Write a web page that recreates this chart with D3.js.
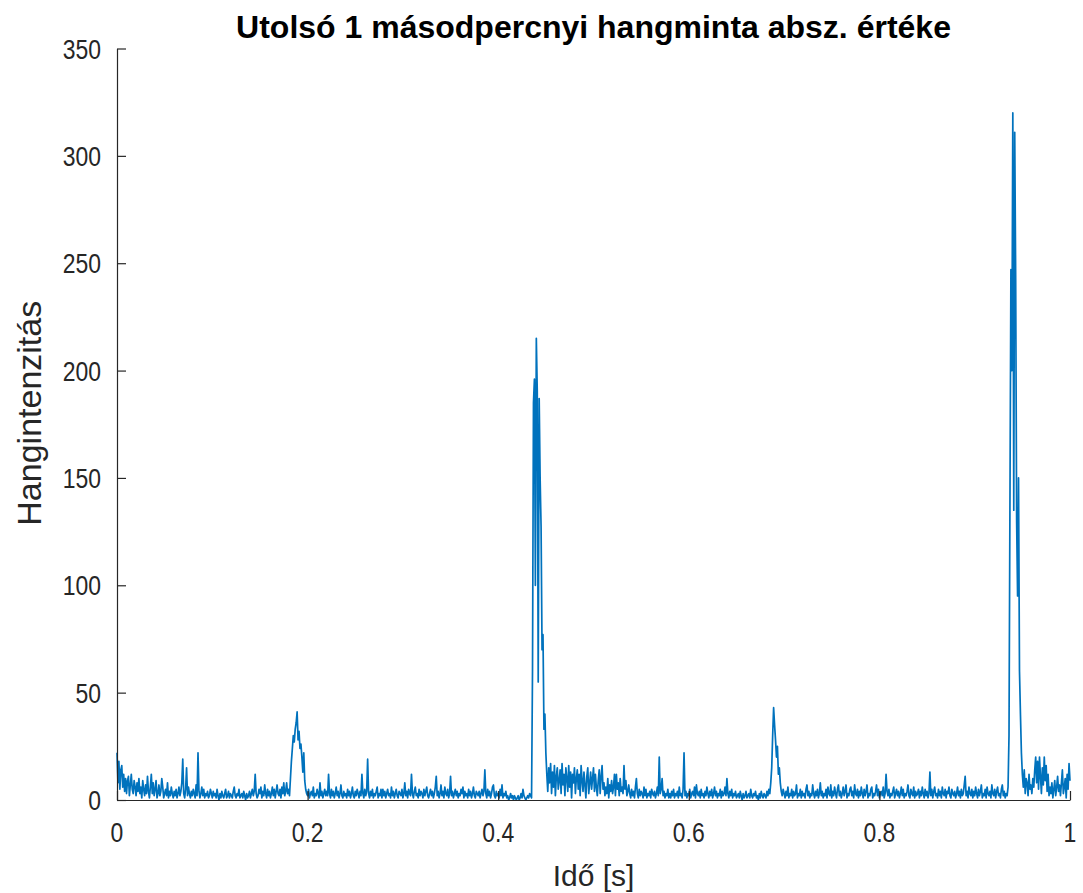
<!DOCTYPE html>
<html><head><meta charset="utf-8">
<script src="https://cdn.jsdelivr.net/npm/d3@7"></script>
<style>body{margin:0;background:#fff}</style>
</head><body>
<script>
const title = "Utolsó 1 másodpercnyi hangminta absz. értéke";
const xLabel = "Idő [s]";
const yLabel = "Hangintenzitás";
const xTicks = [0, 0.2, 0.4, 0.6, 0.8, 1];
const xTickLabels = ["0", "0.2", "0.4", "0.6", "0.8", "1"];
const yTicks = [0, 50, 100, 150, 200, 250, 300, 350];
const yTickLabels = ["0", "50", "100", "150", "200", "250", "300", "350"];
const timeRange = [0, 1];
const values = [
22,8,18,5,14,16,6,12,4,10,3,9,11,2,7,12,5,3,9,6,
2,8,4,10,3,6,1,9,5,2,7,3,11,4,1,6,12,3,8,2,
5,9,1,3,7,2,4,10,6,1,3,5,2,8,1,4,2,6,3,1,
4,2,5,1,3,6,2,4,8,19,3,1,5,15,2,6,3,1,4,2,
5,3,1,7,2,22,4,1,3,6,2,5,1,3,2,4,1,2,5,3,
1,4,2,3,1,5,2,0,3,1,4,2,1,3,5,1,2,4,1,3,
2,1,4,6,2,1,3,2,5,1,2,3,1,4,2,0,3,1,2,4,
1,3,5,2,4,12,3,1,2,5,3,6,1,4,2,7,3,1,5,2,
4,1,3,6,2,5,1,4,7,3,2,5,1,6,3,8,2,4,8,3,
5,2,10,18,24,30,27,33,36,41,28,32,24,26,20,13,22,9,5,3,
2,5,1,3,4,2,6,1,3,2,5,3,1,8,2,4,1,3,5,2,
4,2,12,3,1,5,2,4,1,3,6,2,4,1,3,7,2,1,4,2,
3,1,5,2,4,1,3,6,2,1,4,2,5,3,1,4,2,12,3,1,
5,2,4,19,3,1,4,2,5,1,3,2,4,6,1,3,2,5,1,5,
2,4,1,3,5,2,3,1,6,2,4,1,3,5,2,1,4,3,2,5,
1,3,8,2,4,1,5,3,2,12,3,1,4,6,2,3,1,5,2,4,
3,1,5,2,4,6,2,1,3,5,2,4,1,3,6,11,2,4,1,3,
7,2,4,1,6,3,2,5,1,3,11,2,4,1,3,5,2,4,1,3,
2,5,3,6,1,4,2,3,1,5,2,4,1,3,6,2,1,4,3,2,
4,1,3,5,2,4,14,3,1,5,2,4,1,3,6,7,2,1,4,2,
3,1,5,2,7,1,3,2,4,1,2,0,1,3,1,2,0,2,1,0,
1,2,0,1,3,1,5,2,1,0,1,2,1,3,2,1,60,185,196,100,
215,190,55,187,150,127,70,77,33,40,22,12,4,15,8,17,3,13,6,16,
2,11,15,5,9,14,3,17,7,12,2,15,10,4,16,6,13,1,12,8,
15,3,10,14,5,12,2,16,9,4,13,7,1,11,15,3,8,13,5,10,
15,4,12,6,2,9,14,3,11,16,5,8,2,6,3,10,1,7,4,9,
3,6,12,2,12,5,8,2,10,4,6,3,16,5,9,2,4,7,3,1,
5,2,4,1,6,10,3,1,5,2,4,3,1,6,2,5,1,3,2,4,
1,5,3,2,4,1,3,6,2,20,3,5,10,2,4,1,3,2,5,1,
3,1,4,2,5,1,3,2,4,1,6,2,3,1,5,22,2,4,1,3,
2,5,1,3,4,2,6,1,7,3,2,4,1,5,2,3,1,4,2,6,
3,1,4,2,5,1,3,6,2,4,1,3,2,5,1,4,2,3,6,2,
10,3,1,4,2,5,1,3,2,4,1,2,3,1,4,2,0,3,1,2,
4,1,2,3,1,5,2,1,3,2,4,1,2,0,3,1,4,2,1,3,
2,1,4,2,5,3,8,15,30,43,35,28,20,25,12,15,8,4,2,5,
3,1,4,2,6,1,3,2,5,1,4,2,3,7,1,3,2,5,1,4,
2,3,1,5,7,2,4,1,3,2,7,3,1,4,2,5,1,3,8,2,
4,1,3,2,5,1,6,3,2,7,1,4,2,6,3,1,5,7,2,4,
1,3,6,2,4,7,1,3,2,5,6,2,4,1,7,3,2,5,1,4,
2,6,3,1,5,2,4,7,1,3,2,5,6,1,3,2,4,7,2,5,
1,3,4,2,6,1,3,12,4,2,5,1,3,2,4,6,1,3,5,2,
4,1,3,6,2,5,1,3,2,4,7,2,1,5,3,2,6,1,4,2,
3,5,1,4,2,6,3,1,5,2,4,1,3,13,2,5,1,4,6,2,
3,1,5,2,4,1,6,3,2,5,1,4,3,6,2,1,5,3,2,4,
1,3,6,2,4,1,5,2,3,7,11,2,4,1,6,3,2,5,1,4,
2,6,3,1,5,2,4,7,1,3,2,5,1,6,3,2,4,1,7,3,
2,5,1,4,6,2,3,1,5,7,2,4,1,3,2,6,30,140,247,200,
320,135,311,243,130,95,150,60,40,22,12,6,14,3,10,8,2,12,5,7,
3,10,6,14,20,8,18,5,20,11,3,15,7,20,9,16,4,12,2,6,
3,8,1,5,9,2,6,11,4,7,2,8,14,3,6,10,1,12,5,17,
9
];

const W = 1083, H = 893;
const m = {left:117, right:1070, top:48.5, bottom:800};
const svg = d3.select("body").append("svg").attr("width", W).attr("height", H)
  .style("font-family", "'Liberation Sans', Arial, sans-serif");

const x = d3.scaleLinear().domain(timeRange).range([m.left, m.right]);
const y = d3.scaleLinear().domain([0, 350]).range([m.bottom, m.top]);
const n = values.length;
const data = values.map((v, i) => ({t: timeRange[0] + (timeRange[1]-timeRange[0]) * i / (n - 1), v}));

const axisColor = "#262626";
const tickFont = 27, tickScaleX = 0.85;

// line
svg.append("path").datum(data)
  .attr("fill", "none").attr("stroke", "#0072BD").attr("stroke-width", 1.7)
  .attr("stroke-linejoin", "round")
  .attr("d", d3.line().x(d => x(d.t)).y(d => y(d.v)));

// x axis
const xAxis = svg.append("g").attr("transform", `translate(0,${m.bottom})`)
  .call(d3.axisBottom(x).tickValues(xTicks).tickFormat("").tickSizeInner(-9).tickSizeOuter(0));
xAxis.select(".domain").attr("stroke", axisColor).attr("stroke-width", 1.2);
xAxis.selectAll(".tick line").attr("stroke", axisColor).attr("stroke-width", 1.2);
svg.append("g").selectAll("text").data(xTicks).join("text")
  .attr("transform", d => `translate(${x(d)},${m.bottom + 42}) scale(${tickScaleX},1)`)
  .attr("text-anchor", "middle").attr("font-size", tickFont).attr("fill", axisColor)
  .text((d, i) => xTickLabels[i]);

// y axis
const yAxis = svg.append("g").attr("transform", `translate(${m.left},0)`)
  .call(d3.axisLeft(y).tickValues(yTicks).tickFormat("").tickSizeInner(-9).tickSizeOuter(0));
yAxis.select(".domain").attr("stroke", axisColor).attr("stroke-width", 1.2);
yAxis.selectAll(".tick line").attr("stroke", axisColor).attr("stroke-width", 1.2);
svg.append("g").selectAll("text").data(yTicks).join("text")
  .attr("transform", d => `translate(${m.left - 16},${y(d) + 10}) scale(${tickScaleX},1)`)
  .attr("text-anchor", "end").attr("font-size", tickFont).attr("fill", axisColor)
  .text((d, i) => yTickLabels[i]);

// title
svg.append("text").attr("x", (m.left + m.right) / 2).attr("y", 38)
  .attr("text-anchor", "middle").attr("font-weight", "bold").attr("font-size", 32)
  .attr("fill", "#000").text(title);

// axis labels
svg.append("text").attr("x", (m.left + m.right) / 2).attr("y", 886)
  .attr("text-anchor", "middle").attr("font-size", 30).attr("fill", axisColor).text(xLabel);
svg.append("text").attr("transform", `translate(41,${(m.top + m.bottom) / 2 - 11}) rotate(-90)`)
  .attr("text-anchor", "middle").attr("font-size", 34).attr("fill", axisColor).text(yLabel);
</script>
</body></html>
